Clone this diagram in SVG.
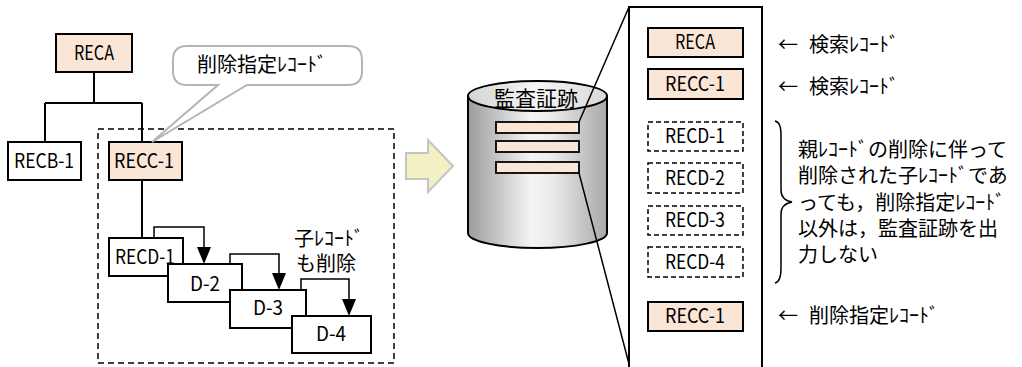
<svg xmlns="http://www.w3.org/2000/svg" width="1022" height="367" viewBox="0 0 1022 367">
<style>
text{font-family:"Noto Sans CJK JP","Noto Sans CJK SC",sans-serif;font-size:20px;fill:#000}
.lbl{text-anchor:middle}
.box{fill:#fff;stroke:#000;stroke-width:2}
.pk{fill:#fae6d7;stroke:#000;stroke-width:2}
.dbox{fill:#fff;stroke:#000;stroke-width:1.5;stroke-dasharray:5 3}
.ln{fill:none;stroke:#000;stroke-width:2}
.thin{fill:none;stroke:#000;stroke-width:1.5}
</style>
<defs>
<linearGradient id="cyl" x1="0" y1="0" x2="1" y2="0">
<stop offset="0" stop-color="#9c9c9c"/>
<stop offset="0.45" stop-color="#f4f4f4"/>
<stop offset="0.6" stop-color="#ececec"/>
<stop offset="1" stop-color="#a8a8a8"/>
</linearGradient>
<linearGradient id="cyltop" x1="0" y1="0" x2="1" y2="0">
<stop offset="0" stop-color="#d4d4d4"/>
<stop offset="0.5" stop-color="#f6f6f6"/>
<stop offset="1" stop-color="#d8d8d8"/>
</linearGradient>
</defs>

<g id="connectors">
<path class="ln" d="M94,72 V103 M45,103 H142 M45,103 V142 M142,103 V142 M142,180 V238"/>
<path class="thin" d="M154,238 V227 H204 V248"/>
<polygon points="197,247 211,247 204,264" fill="#000"/>
<path class="thin" d="M230,264 V254 H279 V273"/>
<polygon points="272,273 286,273 279,290" fill="#000"/>
<path class="thin" d="M301,290 V279 H349 V299"/>
<polygon points="342,299 356,299 349,316" fill="#000"/>
</g>

<g id="deleteArea">
<rect x="98" y="129" width="296" height="234" fill="none" stroke="#000" stroke-width="1.5" stroke-dasharray="6 4"/>
</g>

<g id="RECA"><rect class="pk" x="56" y="34" width="76" height="38"/><text class="lbl" x="94" y="60" textLength="40" lengthAdjust="spacingAndGlyphs">RECA</text></g>
<g id="RECB-1"><rect class="box" x="8" y="142" width="73" height="38"/><text class="lbl" x="44" y="168" textLength="60" lengthAdjust="spacingAndGlyphs">RECB-1</text></g>
<g id="RECC-1"><rect class="pk" x="109" y="142" width="73" height="38"/><text class="lbl" x="144" y="168" textLength="60" lengthAdjust="spacingAndGlyphs">RECC-1</text></g>
<g id="RECD-1"><rect class="box" x="109" y="238" width="74" height="38"/><text class="lbl" x="145" y="264" textLength="60" lengthAdjust="spacingAndGlyphs">RECD-1</text></g>
<g id="D-2"><rect class="box" x="168" y="264" width="74" height="38"/><text class="lbl" x="205" y="291" textLength="30" lengthAdjust="spacingAndGlyphs">D-2</text></g>
<g id="D-3"><rect class="box" x="230" y="290" width="76" height="38"/><text class="lbl" x="268" y="315" textLength="30" lengthAdjust="spacingAndGlyphs">D-3</text></g>
<g id="D-4"><rect class="box" x="292" y="316" width="79" height="37"/><text class="lbl" x="331" y="341" textLength="30" lengthAdjust="spacingAndGlyphs">D-4</text></g>

<g id="childNote">
<text x="294" y="246">子ﾚｺｰﾄﾞ</text>
<text x="296" y="271">も削除</text>
</g>

<g id="callout">
<path d="M187,46 H348 Q362,46 362,60 V71 Q362,85 348,85 H247 L152,142 L218,85 H187 Q173,85 173,71 V60 Q173,46 187,46 Z" fill="#fff" stroke="#b4b4b4" stroke-width="2"/>
<text x="197" y="72">削除指定ﾚｺｰﾄﾞ</text>
</g>

<g id="bigArrow">
<polygon points="406,153 428,153 428,140 453,166 428,192 428,179 406,179" fill="#f3f1c4" stroke="#c4c4c4" stroke-width="2"/>
</g>

<g id="auditTrail">
<path d="M468,96 V233 A69.5,15 0 0 0 607,233 V96 Z" fill="url(#cyl)" stroke="#000" stroke-width="2"/>
<ellipse cx="537.5" cy="96" rx="69.5" ry="15" fill="url(#cyltop)" stroke="#000" stroke-width="2"/>
<text x="494" y="106" style="font-size:21px">監査証跡</text>
<rect class="pk" x="496" y="122" width="83" height="11" style="stroke-width:1.8"/>
<rect class="pk" x="496" y="141" width="83" height="11" style="stroke-width:1.8"/>
<rect class="pk" x="496" y="162" width="83" height="11" style="stroke-width:1.8"/>
</g>

<g id="zoomLines">
<path class="thin" d="M579,122 L629,7 M579,173 L629,364"/>
</g>

<g id="panel">
<path class="ln" d="M629,367 V7 H762 V367"/>
<g id="p-RECA"><rect class="pk" x="648" y="28" width="95" height="29"/><text class="lbl" x="695" y="49" textLength="40" lengthAdjust="spacingAndGlyphs">RECA</text></g>
<g id="p-RECC-1a"><rect class="pk" x="648" y="69" width="95" height="30"/><text class="lbl" x="695" y="91" textLength="60" lengthAdjust="spacingAndGlyphs">RECC-1</text></g>
<g id="p-RECD-1"><rect class="dbox" x="648" y="122" width="95" height="29"/><text class="lbl" x="695" y="143" textLength="60" lengthAdjust="spacingAndGlyphs">RECD-1</text></g>
<g id="p-RECD-2"><rect class="dbox" x="648" y="163" width="95" height="30"/><text class="lbl" x="695" y="185" textLength="60" lengthAdjust="spacingAndGlyphs">RECD-2</text></g>
<g id="p-RECD-3"><rect class="dbox" x="648" y="206" width="95" height="29"/><text class="lbl" x="695" y="227" textLength="60" lengthAdjust="spacingAndGlyphs">RECD-3</text></g>
<g id="p-RECD-4"><rect class="dbox" x="648" y="247" width="95" height="30"/><text class="lbl" x="695" y="269" textLength="60" lengthAdjust="spacingAndGlyphs">RECD-4</text></g>
<g id="p-RECC-1b"><rect class="pk" x="648" y="302" width="95" height="29"/><text class="lbl" x="695" y="323" textLength="60" lengthAdjust="spacingAndGlyphs">RECC-1</text></g>
</g>

<g id="notes">
<text x="778" y="52">←<tspan x="809">検索ﾚｺｰﾄﾞ</tspan></text>
<text x="778" y="94">←<tspan x="809">検索ﾚｺｰﾄﾞ</tspan></text>
<text x="778" y="323">←<tspan x="809">削除指定ﾚｺｰﾄﾞ</tspan></text>
<path class="thin" d="M775,121 Q781,122 781,135 V190 Q781,200 792,202 Q781,204 781,214 V268 Q781,282 775,283"/>
<g style="font-size:21px">
<text x="798" y="157">親ﾚｺｰﾄﾞの削除に伴って</text>
<text x="798" y="183">削除された子ﾚｺｰﾄﾞであ</text>
<text x="798" y="210">っても，削除指定ﾚｺｰﾄﾞ</text>
<text x="798" y="236">以外は，監査証跡を出</text>
<text x="798" y="262">力しない</text>
</g>
</g>
</svg>
